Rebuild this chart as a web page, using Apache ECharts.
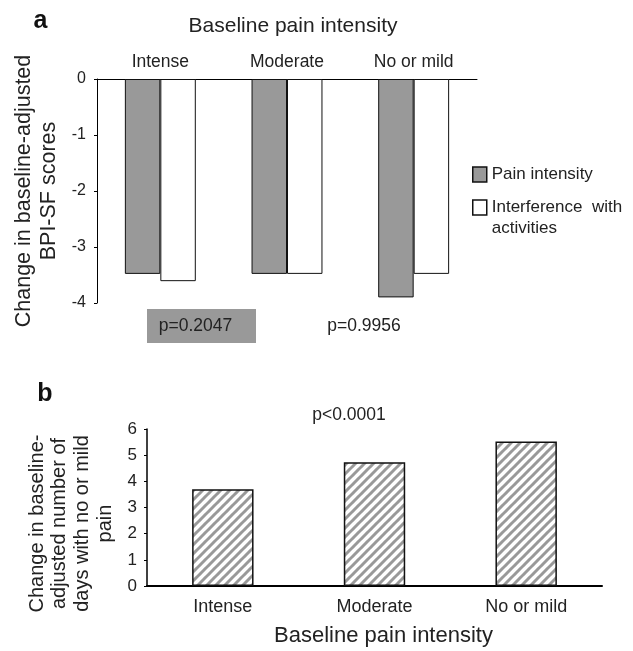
<!DOCTYPE html>
<html>
<head>
<meta charset="utf-8">
<script src="https://cdn.jsdelivr.net/npm/echarts@6/dist/echarts.min.js"></script>
<style>
  html, body { margin: 0; padding: 0; background: #fff; }
  #chart { width: 633px; height: 651px; }
</style>
</head>
<body>
<div id="chart"></div>
<script>
// data
const categories = ['Intense', 'Moderate', 'No or mild'];
const painIntensity = [-3.48, -3.48, -3.9];
const interference = [-3.61, -3.48, -3.48];
const daysNoMildPain = [3.7, 4.73, 5.52];
const scoreTicks = [-4, -3, -2, -1, 0];
const daysTicks = [0, 1, 2, 3, 4, 5, 6];
const pValues = ['p=0.2047', 'p=0.9956', 'p<0.0001'];

const FONT = '"Liberation Sans", Arial, sans-serif';
const INK = '#222';

// diagonal hatch for panel b bars
function hatch() {
  const n = 9;
  const c = document.createElement('canvas');
  c.width = n; c.height = n;
  const g = c.getContext('2d');
  g.fillStyle = '#fff';
  g.fillRect(0, 0, n, n);
  g.strokeStyle = '#999';
  g.lineWidth = 3;
  [-n, 0, n].forEach(o => {
    g.beginPath();
    g.moveTo(o - 1, n + 1);
    g.lineTo(o + n + 1, -1);
    g.stroke();
  });
  return c;
}

const chart = echarts.init(document.getElementById('chart'), null, { renderer: 'canvas' });

const option = {
  animation: false,
  backgroundColor: '#fff',
  textStyle: { fontFamily: FONT, color: INK },
  grid: [
    { left: 97, right: 156, top: 79, bottom: 348 },
    { left: 147, right: 31, top: 429, bottom: 65 }
  ],
  legend: [
    {
      data: [{ name: 'Pain intensity', itemStyle: { color: '#999', borderColor: '#111', borderWidth: 1.5 } }],
      left: 472, top: 164, padding: 0, icon: 'rect', itemWidth: 14, itemHeight: 15,
      selectedMode: false,
      textStyle: { fontSize: 17, color: INK, lineHeight: 21 }
    },
    {
      data: [{ name: 'Interference with activities', itemStyle: { color: '#fff', borderColor: '#111', borderWidth: 1.5 } }],
      left: 472, top: 176, padding: 0, icon: 'rect', itemWidth: 14, itemHeight: 15,
      selectedMode: false,
      formatter: () => '\nInterference  with\nactivities',
      textStyle: { fontSize: 17, color: INK, lineHeight: 21 }
    }
  ],
  xAxis: [
    {
      gridIndex: 0, type: 'category', data: categories, position: 'top',
      name: 'Baseline pain intensity', nameLocation: 'middle', nameGap: 42,
      nameTextStyle: { fontSize: 21, color: INK, padding: [0, 0, 0, 12] },
      axisLine: { lineStyle: { color: '#000', width: 1 } },
      axisTick: { inside: true, length: 5, lineStyle: { color: '#000' } },
      axisLabel: { fontSize: 17.5, color: INK, margin: 8 }
    },
    {
      gridIndex: 1, type: 'category', data: categories, position: 'bottom',
      name: 'Baseline pain intensity', nameLocation: 'middle', nameGap: 39,
      nameTextStyle: { fontSize: 22, color: INK, padding: [0, 0, 0, 18] },
      axisLine: { lineStyle: { color: '#000', width: 2 } },
      axisTick: { length: 5, lineStyle: { color: '#000' } },
      axisLabel: { fontSize: 18, color: INK, margin: 12 }
    }
  ],
  yAxis: [
    {
      gridIndex: 0, type: 'value',
      min: scoreTicks[0], max: scoreTicks[scoreTicks.length - 1], interval: 1,
      name: 'Change in baseline-adjusted\nBPI-SF scores', nameLocation: 'middle', nameRotate: 90, nameGap: 36,
      nameTextStyle: { fontSize: 21.5, lineHeight: 24.5, color: INK },
      axisLine: { show: true, lineStyle: { color: '#000', width: 1 } },
      axisTick: { show: true, length: 3, lineStyle: { color: '#000' } },
      splitLine: { show: false },
      axisLabel: { fontSize: 16, color: INK, margin: 11 }
    },
    {
      gridIndex: 1, type: 'value',
      min: daysTicks[0], max: daysTicks[daysTicks.length - 1], interval: 1,
      name: 'Change in baseline-\nadjusted number of\ndays with no or mild\npain', nameLocation: 'middle', nameRotate: 90, nameGap: 29,
      nameTextStyle: { fontSize: 20, lineHeight: 22.7, color: INK, padding: [0, 32, 0, 0] },
      axisLine: { show: true, lineStyle: { color: '#000', width: 1.5 } },
      axisTick: { show: true, length: 3, lineStyle: { color: '#000' } },
      splitLine: { show: false },
      axisLabel: { fontSize: 17, color: INK, margin: 10 }
    }
  ],
  series: [
    {
      name: 'Pain intensity', type: 'bar', xAxisIndex: 0, yAxisIndex: 0,
      data: painIntensity, barWidth: '28%', barGap: '0%',
      itemStyle: { color: '#999', borderColor: '#111', borderWidth: 1 }
    },
    {
      name: 'Interference with activities', type: 'bar', xAxisIndex: 0, yAxisIndex: 0,
      data: interference, barWidth: '28%', barGap: '0%',
      itemStyle: { color: '#fff', borderColor: '#111', borderWidth: 1 }
    },
    {
      name: 'Days with no or mild pain', type: 'bar', xAxisIndex: 1, yAxisIndex: 1,
      data: daysNoMildPain, barWidth: '40.5%',
      itemStyle: { color: { image: hatch(), repeat: 'repeat' }, borderColor: '#111', borderWidth: 1.5 }
    }
  ],
  graphic: [
    { type: 'text', x: 40.5, y: 21.5, style: { text: 'a', font: 'bold 25px ' + FONT, fill: '#111', align: 'center', verticalAlign: 'middle' } },
    { type: 'text', x: 45, y: 394.5, style: { text: 'b', font: 'bold 25px ' + FONT, fill: '#111', align: 'center', verticalAlign: 'middle' } },
    { type: 'rect', shape: { x: 147, y: 309, width: 109, height: 34 }, style: { fill: '#999' } },
    { type: 'text', x: 195.5, y: 326, style: { text: pValues[0], font: '17.5px ' + FONT, fill: INK, align: 'center', verticalAlign: 'middle' } },
    { type: 'text', x: 364, y: 326, style: { text: pValues[1], font: '17.5px ' + FONT, fill: INK, align: 'center', verticalAlign: 'middle' } },
    { type: 'text', x: 349, y: 415, style: { text: pValues[2], font: '17.5px ' + FONT, fill: INK, align: 'center', verticalAlign: 'middle' } }
  ]
};

chart.setOption(option);
</script>
</body>
</html>
